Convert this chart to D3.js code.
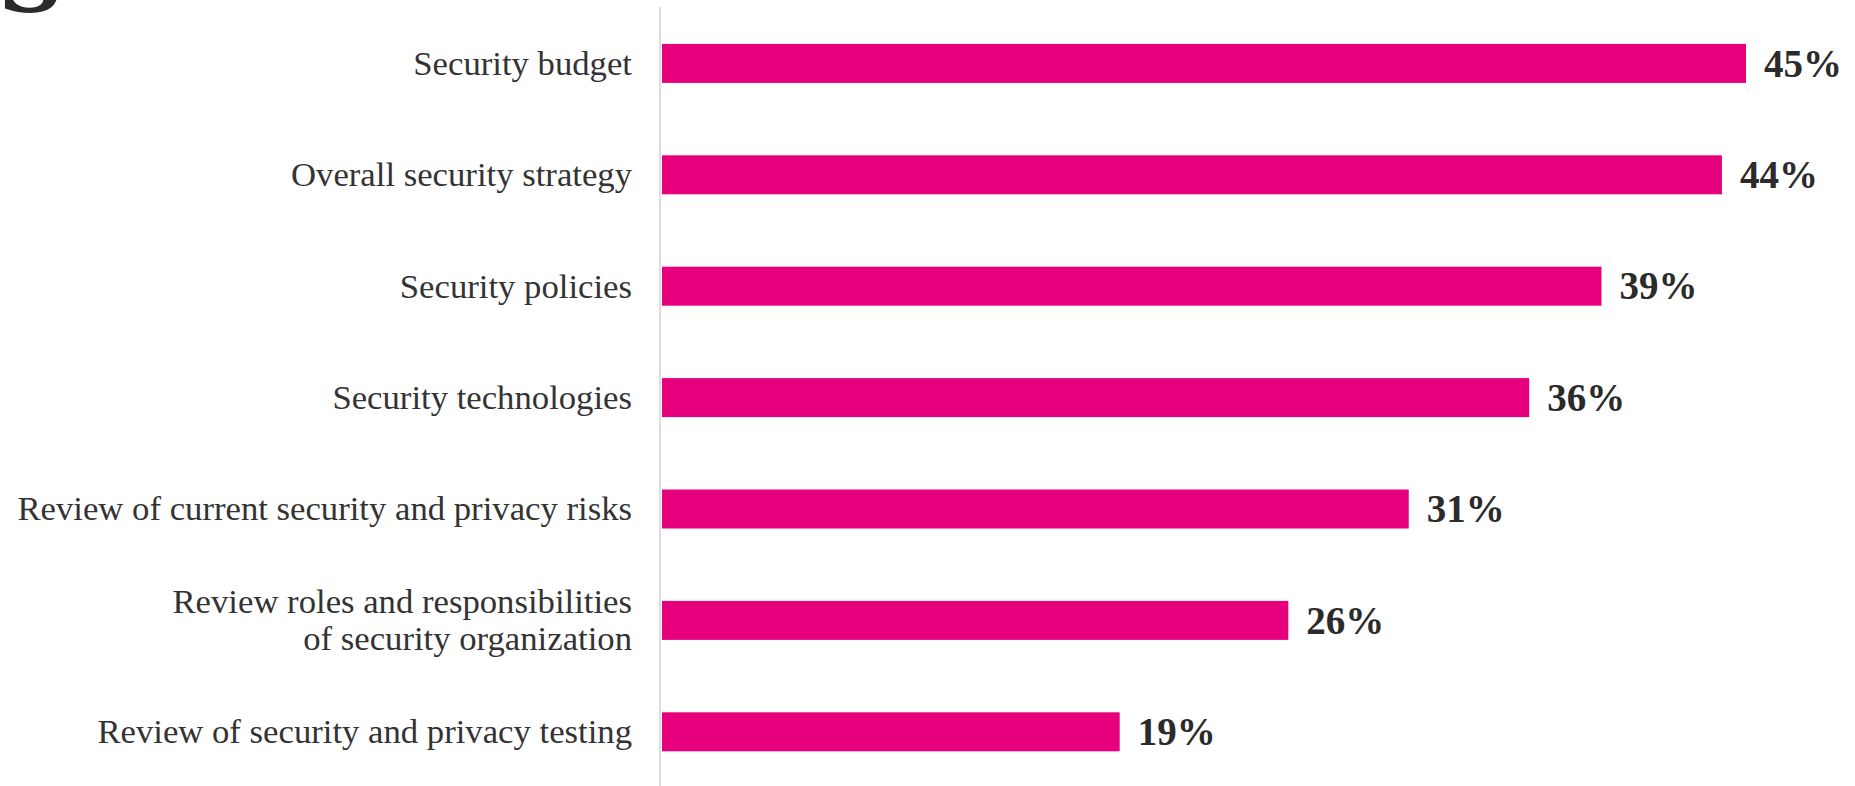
<!DOCTYPE html>
<html>
<head>
<meta charset="utf-8">
<script src="https://cdn.jsdelivr.net/npm/d3@7"></script>
<style>
  html, body { margin: 0; padding: 0; background: #ffffff; }
  svg { display: block; }
</style>
</head>
<body>
<svg id="chart" width="1855" height="786"></svg>
<script>
// Areas of the security programme that were reviewed (share of respondents)
const categories = [
  "Security budget",
  "Overall security strategy",
  "Security policies",
  "Security technologies",
  "Review of current security and privacy risks",
  "Review roles and responsibilities\nof security organization",
  "Review of security and privacy testing"
];
const values = [45, 44, 39, 36, 31, 26, 19];
const valueLabels = ["45%", "44%", "39%", "36%", "31%", "26%", "19%"];

const W = 1855, H = 786;
const svg = d3.select("#chart");

const x = d3.scaleLinear().domain([0, 45]).range([662, 1746]);
const y = d3.scaleBand()
  .domain(categories)
  .range([7.7, 787.5])
  .paddingInner(0.65)
  .paddingOuter(0.325);

// Bottom of the large heading glyph, cut off by the top edge
svg.append("text")
  .attr("x", -2)
  .attr("y", 12)
  .attr("font-family", "DejaVu Serif")
  .attr("font-weight", "bold")
  .attr("font-size", 90)
  .attr("fill", "#2b2b2b")
  .text("S");

// Vertical baseline
svg.append("line")
  .attr("x1", 660).attr("x2", 660)
  .attr("y1", 7).attr("y2", H)
  .attr("stroke", "#dedede")
  .attr("stroke-width", 2);

// Bars
svg.append("g").selectAll("rect")
  .data(values)
  .join("rect")
  .attr("x", x(0))
  .attr("y", (d, i) => y(categories[i]))
  .attr("width", d => x(d) - x(0))
  .attr("height", y.bandwidth())
  .attr("fill", "#e6007e");

// Value labels
svg.append("g").selectAll("text")
  .data(values)
  .join("text")
  .attr("x", d => x(d) + 18)
  .attr("y", (d, i) => y(categories[i]) + y.bandwidth() / 2)
  .attr("dy", "0.34em")
  .attr("font-family", "Liberation Serif")
  .attr("font-weight", "bold")
  .attr("font-size", 39)
  .attr("fill", "#2b2b2b")
  .text((d, i) => valueLabels[i]);

// Category labels, right-aligned against the baseline
const lineH = 37;
const labels = svg.append("g").selectAll("text")
  .data(categories)
  .join("text")
  .attr("text-anchor", "end")
  .attr("font-family", "Liberation Serif")
  .attr("font-size", 34.7)
  .attr("fill", "#333333")
  .attr("transform", d => `translate(632,${y(d) + y.bandwidth() / 2})`);

labels.each(function(d) {
  const lines = d.split("\n");
  const t = d3.select(this);
  lines.forEach((ln, k) => {
    t.append("tspan")
      .attr("x", 0)
      .attr("y", (k - (lines.length - 1) / 2) * lineH)
      .attr("dy", "0.33em")
      .text(ln);
  });
});
</script>
</body>
</html>
